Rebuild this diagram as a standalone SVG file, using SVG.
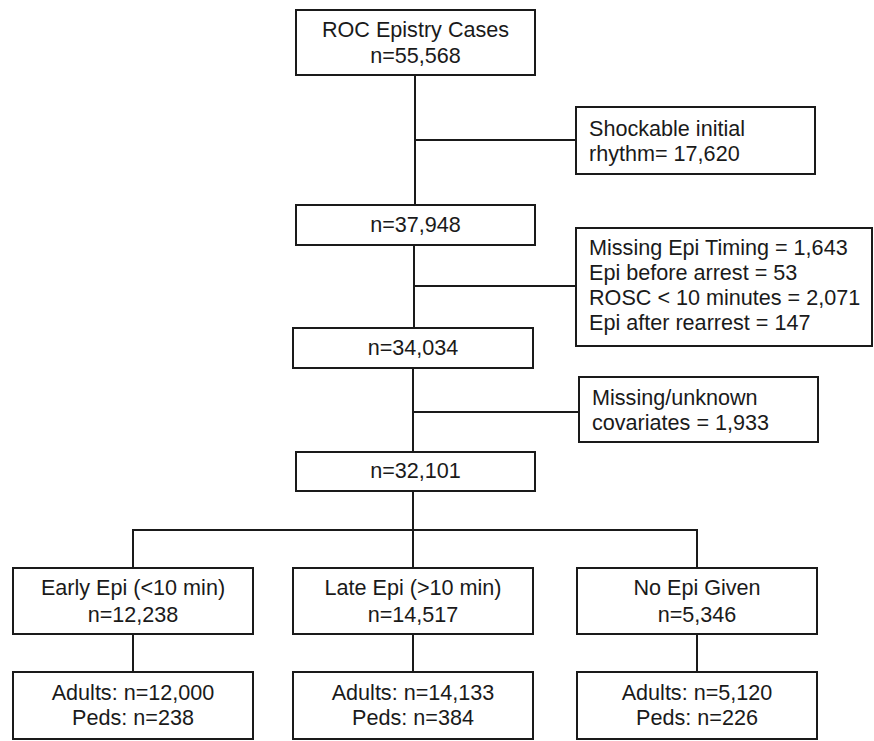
<svg xmlns="http://www.w3.org/2000/svg" width="874" height="741" viewBox="0 0 874 741">
<style>
  .box { fill: #ffffff; stroke: #1a1a1a; stroke-width: 2; }
  .conn line { stroke: #1a1a1a; stroke-width: 2; }
  text { font-family: "Liberation Sans", Arial, sans-serif; font-size: 21.6px; fill: #1a1a1a; }
  .c { text-anchor: middle; }
</style>
<rect width="874" height="741" fill="#ffffff"/>
<g id="connectors" class="conn">
  <line x1="415" y1="75" x2="415" y2="205"/>
  <line x1="415" y1="140" x2="576" y2="140"/>
  <line x1="414" y1="245" x2="414" y2="328"/>
  <line x1="414" y1="286" x2="576" y2="286"/>
  <line x1="413" y1="368" x2="413" y2="452"/>
  <line x1="413" y1="412" x2="579" y2="412"/>
  <line x1="413" y1="491" x2="413" y2="568"/>
  <line x1="132" y1="530" x2="698" y2="530"/>
  <line x1="133" y1="529" x2="133" y2="568"/>
  <line x1="697" y1="529" x2="697" y2="568"/>
  <line x1="133" y1="634" x2="133" y2="672"/>
  <line x1="413" y1="634" x2="413" y2="672"/>
  <line x1="697" y1="634" x2="697" y2="672"/>
</g>
<g id="roc">
  <rect class="box" x="296" y="10" width="239" height="65"/>
  <text class="c" x="415.5" y="37">ROC Epistry Cases</text>
  <text class="c" x="415.5" y="63">n=55,568</text>
</g>
<g id="shockable">
  <rect class="box" x="576" y="107" width="239" height="67"/>
  <text x="589" y="136">Shockable initial</text>
  <text x="589" y="161">rhythm= 17,620</text>
</g>
<g id="n37948">
  <rect class="box" x="296" y="205" width="239" height="40"/>
  <text class="c" x="415.5" y="232">n=37,948</text>
</g>
<g id="exclusions2">
  <rect class="box" x="576" y="228" width="296" height="118"/>
  <text x="589" y="255">Missing Epi Timing = 1,643</text>
  <text x="589" y="280">Epi before arrest = 53</text>
  <text x="589" y="305">ROSC &lt; 10 minutes = 2,071</text>
  <text x="589" y="330">Epi after rearrest = 147</text>
</g>
<g id="n34034">
  <rect class="box" x="293" y="328" width="240" height="40"/>
  <text class="c" x="413" y="355">n=34,034</text>
</g>
<g id="missingcov">
  <rect class="box" x="579" y="377" width="239" height="65"/>
  <text x="592" y="405">Missing/unknown</text>
  <text x="592" y="430">covariates = 1,933</text>
</g>
<g id="n32101">
  <rect class="box" x="296" y="452" width="239" height="39"/>
  <text class="c" x="415.5" y="478">n=32,101</text>
</g>
<g id="early">
  <rect class="box" x="13" y="568" width="240" height="66"/>
  <text class="c" x="133" y="595">Early Epi (&lt;10 min)</text>
  <text class="c" x="133" y="622">n=12,238</text>
</g>
<g id="late">
  <rect class="box" x="293" y="568" width="240" height="66"/>
  <text class="c" x="413" y="595">Late Epi (&gt;10 min)</text>
  <text class="c" x="413" y="622">n=14,517</text>
</g>
<g id="noepi">
  <rect class="box" x="577" y="568" width="240" height="66"/>
  <text class="c" x="697" y="595">No Epi Given</text>
  <text class="c" x="697" y="622">n=5,346</text>
</g>
<g id="early-split">
  <rect class="box" x="13" y="672" width="240" height="67"/>
  <text class="c" x="133" y="700">Adults: n=12,000</text>
  <text class="c" x="133" y="725">Peds: n=238</text>
</g>
<g id="late-split">
  <rect class="box" x="293" y="672" width="240" height="67"/>
  <text class="c" x="413" y="700">Adults: n=14,133</text>
  <text class="c" x="413" y="725">Peds: n=384</text>
</g>
<g id="noepi-split">
  <rect class="box" x="577" y="672" width="240" height="67"/>
  <text class="c" x="697" y="700">Adults: n=5,120</text>
  <text class="c" x="697" y="725">Peds: n=226</text>
</g>
</svg>
